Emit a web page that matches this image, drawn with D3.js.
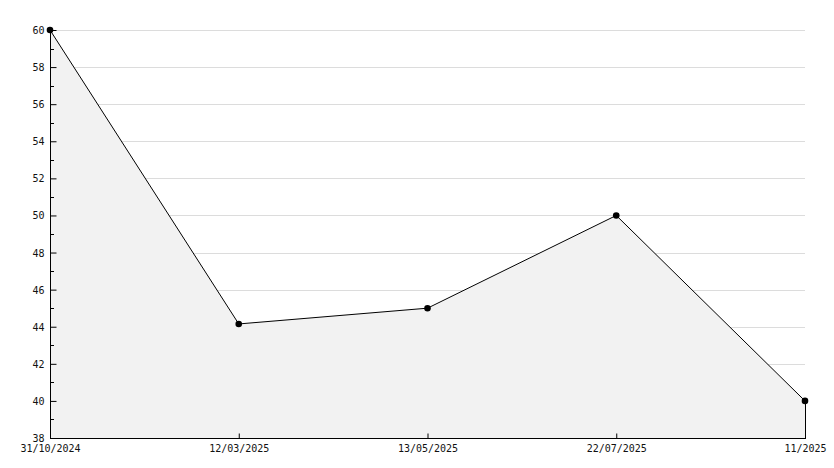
<!DOCTYPE html>
<html><head><meta charset="utf-8">
<script src="https://cdn.jsdelivr.net/npm/d3@7/dist/d3.min.js"></script>
<style>body{margin:0;background:#fff}svg{display:block}text{font-family:"DejaVu Sans Mono",monospace;font-size:10px;fill:#111}</style>
</head><body><svg id="c" width="834" height="468"></svg>
<script>
const categories = ["31/10/2024","12/03/2025","13/05/2025","22/07/2025","11/2025"];
const values = [60, 44.15, 45, 50, 40];
const yTicks = [38,40,42,44,46,48,50,52,54,56,58,60];
const yMinor = [39,41,43,45,47,49,51,53,55,57,59];

const svg = d3.select("#c");
const L = 50, R = 805, T = 30, B = 438;
const x = d3.scalePoint().domain(categories).range([L, R]);
const y = d3.scaleLinear().domain([38, 60]).range([B, T]);

// gridlines
svg.append("g").selectAll("line").data(yTicks.filter(d => d > 38)).join("line")
  .attr("x1", L).attr("x2", R).attr("y1", d => Math.round(y(d)) + 0.5).attr("y2", d => Math.round(y(d)) + 0.5)
  .attr("stroke", "#dcdcdc").attr("stroke-width", 1);

// area
const area = d3.area().x((d, i) => x(categories[i])).y0(B).y1(d => y(d));
svg.append("path").datum(values).attr("d", area).attr("fill", "#f2f2f2");

// line
const line = d3.line().x((d, i) => x(categories[i])).y(d => y(d));
svg.append("path").datum(values).attr("d", line).attr("fill", "none").attr("stroke", "#000").attr("stroke-width", 1);
// right edge vertical
svg.append("line").attr("x1", R + 0.5).attr("x2", R + 0.5).attr("y1", y(values[values.length-1])).attr("y2", B)
  .attr("stroke", "#000").attr("shape-rendering", "crispEdges");

// axes
const yAxis = d3.axisRight(y).tickValues(yTicks).tickSize(6).tickFormat(d3.format("d"));
const gy = svg.append("g").attr("transform", `translate(${L + 0.5},0)`).call(yAxis);
gy.select(".domain").attr("d", `M0,${T}V${B}`).attr("stroke", "#000");
gy.selectAll(".tick line").attr("stroke", "#000");
gy.selectAll(".tick text").attr("x", -6).attr("text-anchor", "end").attr("dy", "0.35em");
svg.append("g").selectAll("line").data(yMinor).join("line")
  .attr("x1", L).attr("x2", L + 4).attr("y1", d => Math.round(y(d)) + 0.5).attr("y2", d => Math.round(y(d)) + 0.5)
  .attr("stroke", "#000");

const xAxis = d3.axisTop(x).tickSize(5).tickFormat(d => d);
const gx = svg.append("g").attr("transform", `translate(0,${B + 0.5})`).call(xAxis);
gx.select(".domain").attr("d", `M${L},0H${R + 1}`).attr("stroke", "#000");
gx.selectAll(".tick line").attr("stroke", "#000");
gx.selectAll(".tick text").attr("y", 6).attr("dy", "0.71em").attr("text-anchor", "middle");
gx.selectAll(".tick").filter((d, i) => i === 0).select("line").remove();

// markers
svg.append("g").selectAll("circle").data(values).join("circle")
  .attr("cx", (d, i) => x(categories[i])).attr("cy", d => y(d)).attr("r", 3.3).attr("fill", "#000");
</script></body></html>
